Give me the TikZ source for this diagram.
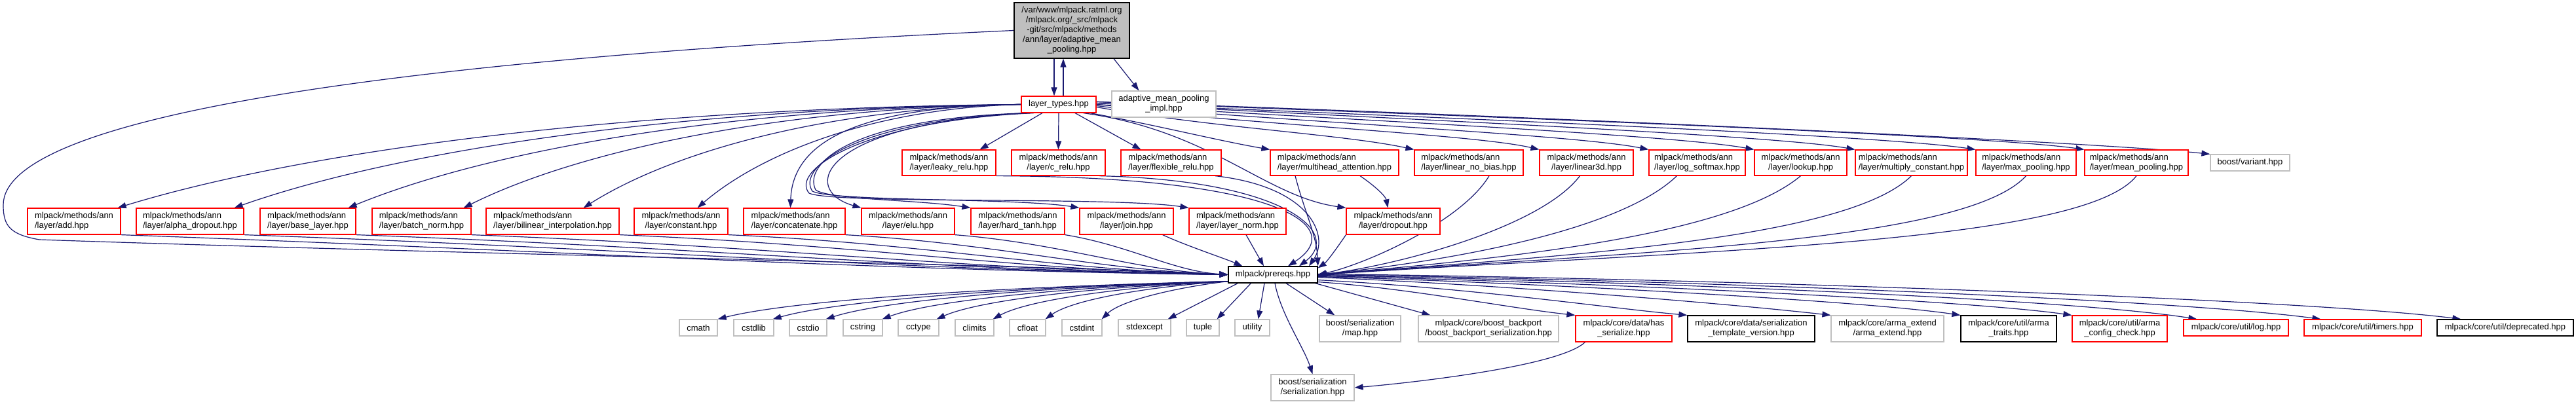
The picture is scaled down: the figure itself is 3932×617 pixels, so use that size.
\documentclass[tikz,border=0pt]{standalone}
\usepackage{fontspec}
\usetikzlibrary{arrows.meta}
\newfontfamily\dgfam{Liberation Sans}
\newcommand\dgf{\dgfam\fontsize{13}{15}\selectfont}
\definecolor{edgec}{HTML}{191970}
\definecolor{greyb}{HTML}{BFBFBF}
\definecolor{redb}{HTML}{FF0000}
\pgfdeclarelayer{bg}
\pgfsetlayers{bg,main}
\newcommand\dnode[7]{\node[#6,minimum width={(#3)-(#2)},minimum height={(#5)-(#4)}] (#1) at ({((#2)+(#3))/2},{((#4)+(#5))/2}) {#7};}
\begin{document}
\begin{tikzpicture}[x=1pt,y=-1pt,
  nb/.style={draw,rectangle,inner sep=0pt,font=\dgf,line width=1.2pt,align=center,fill=white},
  rn/.style={nb,draw=redb},
  gn/.style={nb,draw=greyb},
  kn/.style={nb,draw=black},
  mn/.style={nb,draw=black,fill=greyb},
  lft/.style={align=left},
  edge/.style={draw=edgec,line width=1.2pt,-{Triangle[length=13pt,width=9pt]}}]
\useasboundingbox (0,0) rectangle (3932,617);
% top
\dnode{m}{1548}{1724}{4}{89}{mn}{/var/www/mlpack.ratml.org\\/mlpack.org/\_src/mlpack\\-git/src/mlpack/methods\\/ann/layer/adaptive\_mean\\\_pooling.hpp}
\dnode{ami}{1697}{1856}{139}{179}{gn}{adaptive\_mean\_pooling\\\_impl.hpp}
\dnode{lt}{1559}{1673}{147}{172}{rn}{layer\_types.hpp}
% row 2
\dnode{leaky}{1377}{1520}{229}{268}{rn,lft}{mlpack/methods/ann\\/layer/leaky\_relu.hpp}
\dnode{crelu}{1544}{1687}{229}{268}{rn}{mlpack/methods/ann\\/layer/c\_relu.hpp}
\dnode{flex}{1711}{1864}{229}{268}{rn,lft}{mlpack/methods/ann\\/layer/flexible\_relu.hpp}
\dnode{mh}{1939}{2135}{229}{268}{rn,lft}{mlpack/methods/ann\\/layer/multihead\_attention.hpp}
\dnode{lnb}{2159}{2325}{229}{268}{rn,lft}{mlpack/methods/ann\\/layer/linear\_no\_bias.hpp}
\dnode{l3d}{2350}{2493}{229}{268}{rn}{mlpack/methods/ann\\/layer/linear3d.hpp}
\dnode{lsm}{2517}{2664}{229}{268}{rn,lft}{mlpack/methods/ann\\/layer/log\_softmax.hpp}
\dnode{lookup}{2678}{2819}{229}{268}{rn}{mlpack/methods/ann\\/layer/lookup.hpp}
\dnode{mc}{2832}{3003}{229}{268}{rn,lft}{mlpack/methods/ann\\/layer/multiply\_constant.hpp}
\dnode{maxp}{3016}{3169}{229}{268}{rn,lft}{mlpack/methods/ann\\/layer/max\_pooling.hpp}
\dnode{meanp}{3182}{3340}{229}{268}{rn,lft}{mlpack/methods/ann\\/layer/mean\_pooling.hpp}
\dnode{bv}{3374}{3495}{236}{261}{gn}{boost/variant.hpp}
% row 3
\dnode{add}{42}{184}{318}{358}{rn,lft}{mlpack/methods/ann\\/layer/add.hpp}
\dnode{alpha}{208}{372}{318}{358}{rn,lft}{mlpack/methods/ann\\/layer/alpha\_dropout.hpp}
\dnode{base}{397}{543}{318}{358}{rn,lft}{mlpack/methods/ann\\/layer/base\_layer.hpp}
\dnode{batch}{568}{719}{318}{358}{rn,lft}{mlpack/methods/ann\\/layer/batch\_norm.hpp}
\dnode{bil}{742}{945}{318}{358}{rn,lft}{mlpack/methods/ann\\/layer/bilinear\_interpolation.hpp}
\dnode{cnst}{968}{1111}{318}{358}{rn}{mlpack/methods/ann\\/layer/constant.hpp}
\dnode{concat}{1135}{1290}{318}{358}{rn,lft}{mlpack/methods/ann\\/layer/concatenate.hpp}
\dnode{elu}{1315}{1457}{318}{358}{rn}{mlpack/methods/ann\\/layer/elu.hpp}
\dnode{htanh}{1482}{1625}{318}{358}{rn,lft}{mlpack/methods/ann\\/layer/hard\_tanh.hpp}
\dnode{join}{1648}{1791}{318}{358}{rn}{mlpack/methods/ann\\/layer/join.hpp}
\dnode{lnorm}{1815}{1963}{318}{358}{rn,lft}{mlpack/methods/ann\\/layer/layer\_norm.hpp}
\dnode{drop}{2055}{2198}{318}{358}{rn}{mlpack/methods/ann\\/layer/dropout.hpp}
% prereqs
\dnode{pr}{1875}{2011}{407}{432}{kn}{mlpack/prereqs.hpp}
% bottom row
\dnode{cmath}{1037}{1095}{488}{513}{gn}{cmath}
\dnode{cstdlib}{1120}{1181}{488}{513}{gn}{cstdlib}
\dnode{cstdio}{1205}{1262}{488}{513}{gn}{cstdio}
\dnode{cstring}{1287}{1347}{488}{513}{gn}{cstring}
\dnode{cctype}{1371}{1433}{488}{513}{gn}{cctype}
\dnode{climits}{1458}{1517}{488}{513}{gn}{climits}
\dnode{cfloat}{1541}{1596}{488}{513}{gn}{cfloat}
\dnode{cstdint}{1621}{1682}{488}{513}{gn}{cstdint}
\dnode{stdexcept}{1707}{1787}{488}{513}{gn}{stdexcept}
\dnode{tuple}{1811}{1861}{488}{513}{gn}{tuple}
\dnode{utility}{1885}{1938}{488}{513}{gn}{utility}
\dnode{bsmap}{2014}{2138}{482}{522}{gn}{boost/serialization\\/map.hpp}
\dnode{bbp}{2165}{2379}{482}{522}{gn}{mlpack/core/boost\_backport\\/boost\_backport\_serialization.hpp}
\dnode{hs}{2405}{2552}{482}{522}{rn}{mlpack/core/data/has\\\_serialize.hpp}
\dnode{stv}{2576}{2770}{482}{522}{kn}{mlpack/core/data/serialization\\\_template\_version.hpp}
\dnode{ae}{2795}{2967}{482}{522}{gn}{mlpack/core/arma\_extend\\/arma\_extend.hpp}
\dnode{atr}{2993}{3139}{482}{522}{kn}{mlpack/core/util/arma\\\_traits.hpp}
\dnode{acc}{3163}{3308}{482}{522}{rn}{mlpack/core/util/arma\\\_config\_check.hpp}
\dnode{logn}{3333}{3493}{488}{513}{rn}{mlpack/core/util/log.hpp}
\dnode{timers}{3517}{3696}{488}{513}{rn}{mlpack/core/util/timers.hpp}
\dnode{depr}{3720}{3928}{488}{513}{kn}{mlpack/core/util/deprecated.hpp}
\dnode{bss}{1940}{2067}{572}{612}{gn}{boost/serialization\\/serialization.hpp}
\begin{pgfonlayer}{bg}
\fill[white] (0,0) rectangle (3932,617);
% main node
\draw[edge] ([xshift=-27pt]m.south) -- ([xshift=-7pt]lt.north);
\draw[edge] ([xshift=7pt]lt.north) -- ([xshift=-13pt]m.south);
\draw[edge] ([xshift=64pt]m.south) -- ([xshift=-38pt]ami.north);
\draw[edge] (m.west) .. controls (500,95) and (5,190) .. (5,313) .. controls (5,345) and (15,358) .. (60,366) .. controls (700,388) and (1600,405) .. (pr.west);
% layer_types -> row 3
\draw[edge] (lt.west) .. controls (938,165) and (455,233) .. ([xshift=-5pt]add.north east);
\draw[edge] (lt.west) .. controls (1018,165) and (597,233) .. ([xshift=-15pt]alpha.north east);
\draw[edge] (lt.west) .. controls (1096,165) and (737,233) .. ([xshift=-12pt]base.north east);
\draw[edge] (lt.west) .. controls (1176,165) and (877,233) .. ([xshift=-12pt]batch.north east);
\draw[edge] (lt.west) .. controls (1258,165) and (1024,233) .. ([xshift=-55pt]bil.north east);
\draw[edge] (lt.west) .. controls (1336,165) and (1163,233) .. ([xshift=-47pt]cnst.north east);
\draw[edge] (lt.west) .. controls (1350,162) and (1210,200) .. ([xshift=-6pt]concat.north);
\draw[edge] ([xshift=8pt]lt.south west) .. controls (1250,190) and (1220,290) .. (elu.north west);
\draw[edge] ([xshift=12pt]lt.south west) .. controls (1300,180) and (1225,250) .. (1245,290) .. controls (1265,305) and (1400,305) .. (htanh.north west);
\draw[edge] ([xshift=16pt]lt.south west) .. controls (1310,182) and (1215,255) .. (1240,292) .. controls (1270,308) and (1550,302) .. (join.north west);
\draw[edge] ([xshift=20pt]lt.south west) .. controls (1320,184) and (1205,260) .. (1235,295) .. controls (1270,312) and (1700,300) .. (lnorm.north west);
% layer_types -> row 2
\draw[edge] ([xshift=-25pt]lt.south) -- ([xshift=47pt]leaky.north);
\draw[edge] (lt.south) -- (crelu.north);
\draw[edge] ([xshift=25pt]lt.south) -- ([xshift=-46pt]flex.north);
\draw[edge] ([xshift=-10pt]lt.south east) .. controls (1760,190) and (1860,215) .. (mh.north west);
\draw[edge] ([yshift=-4pt]lt.east) .. controls (1850,195) and (2050,205) .. (lnb.north west);
\draw[edge] ([yshift=-2pt]lt.east) .. controls (1900,190) and (2250,205) .. (l3d.north west);
\draw[edge] (lt.east) .. controls (1950,185) and (2400,205) .. (lsm.north west);
\draw[edge] (lt.east) .. controls (2000,180) and (2550,205) .. (lookup.north west);
\draw[edge] ([yshift=2pt]lt.east) .. controls (2050,178) and (2700,205) .. (mc.north west);
\draw[edge] ([yshift=2pt]lt.east) .. controls (2100,176) and (2860,205) .. (maxp.north west);
\draw[edge] ([yshift=4pt]lt.east) .. controls (2150,174) and (3020,205) .. (meanp.north west);
\draw[edge] ([yshift=4pt]lt.east) .. controls (2200,172) and (3180,215) .. (bv.north west);
\draw[edge] ([xshift=-20pt]lt.south east) .. controls (1850,200) and (1930,300) .. (drop.north west);
% row 2 -> prereqs
\draw[edge] (leaky.south east) .. controls (1950,270) and (2060,345) .. ([xshift=23pt]pr.north);
\draw[edge] ([xshift=-10pt]crelu.south east) .. controls (1960,275) and (2050,355) .. ([xshift=40pt]pr.north);
\draw[edge] ([xshift=-10pt]flex.south east) .. controls (2000,285) and (2030,360) .. ([xshift=55pt]pr.north);
\draw[edge] ([xshift=-60pt]mh.south) .. controls (1990,320) and (2010,360) .. (pr.north east);
\draw[edge] ([xshift=39pt]mh.south) .. controls (2100,285) and (2115,300) .. ([xshift=-8pt]drop.north);
\draw[edge] (drop.south west) .. controls (2040,380) and (2025,400) .. ([yshift=-3pt]pr.north east);
\draw[edge] ([xshift=31pt]lnb.south) .. controls (2230,340) and (2080,405) .. (pr.east);
\draw[edge] ([xshift=-10pt]l3d.south) .. controls (2350,350) and (2120,408) .. (pr.east);
\draw[edge] ([xshift=-31pt]lsm.south) .. controls (2470,355) and (2200,400) .. (pr.east);
\draw[edge] (lookup.south) .. controls (2640,360) and (2300,395) .. (pr.east);
\draw[edge] (mc.south) .. controls (2820,365) and (2400,390) .. (pr.east);
\draw[edge] (maxp.south) .. controls (3000,370) and (2500,385) .. (pr.east);
\draw[edge] (meanp.south) .. controls (3180,372) and (2600,382) .. (pr.east);
% row 3 -> prereqs
\draw[edge] (add.south east) .. controls (860,383) and (1290,412) .. (pr.west);
\draw[edge] (alpha.south east) .. controls (973,380) and (1350,412) .. (pr.west);
\draw[edge] (base.south east) .. controls (1076,378) and (1409,412) .. (pr.west);
\draw[edge] (batch.south east) .. controls (1181,376) and (1470,412) .. (pr.west);
\draw[edge] (bil.south east) .. controls (1317,374) and (1550,412) .. (pr.west);
\draw[edge] (cnst.south east) .. controls (1417,372) and (1608,412) .. (pr.west);
\draw[edge] (concat.south east) .. controls (1524,372) and (1670,412) .. (pr.west);
\draw[edge] (elu.south east) .. controls (1624,372) and (1729,413) .. (pr.west);
\draw[edge] (htanh.south east) .. controls (1725,375) and (1790,414) .. (pr.west);
\draw[edge] ([xshift=55pt]join.south) .. controls (1810,375) and (1870,395) .. ([xshift=22pt]pr.north west);
\draw[edge] ([xshift=13pt]lnorm.south) -- ([xshift=-14pt]pr.north);
% prereqs -> bottom row (left)
\draw[edge] ([yshift=3pt]pr.south west) .. controls (1524,438) and (1212,458) .. (cmath.north east);
\draw[edge] ([yshift=3pt]pr.south west) .. controls (1562,438) and (1283,458) .. ([xshift=-2pt]cstdlib.north east);
\draw[edge] ([yshift=3pt]pr.south west) .. controls (1598,438) and (1352,458) .. ([xshift=-2pt]cstdio.north east);
\draw[edge] ([yshift=3pt]pr.south west) .. controls (1637,438) and (1425,458) .. ([xshift=-1pt]cstring.north east);
\draw[edge] ([yshift=3pt]pr.south west) .. controls (1674,438) and (1496,458) .. ([xshift=-4pt]cctype.north east);
\draw[edge] ([yshift=3pt]pr.south west) .. controls (1713,438) and (1569,458) .. ([xshift=-2pt]climits.north east);
\draw[edge] ([yshift=3pt]pr.south west) .. controls (1749,438) and (1637,458) .. ([xshift=-1pt]cfloat.north east);
\draw[edge] ([yshift=3pt]pr.south west) .. controls (1788,440) and (1710,460) .. ([xshift=-1pt]cstdint.north east);
\draw[edge] ([xshift=15pt]pr.south west) -- ([xshift=-5pt]stdexcept.north east);
\draw[edge] ([xshift=35pt]pr.south west) -- ([xshift=-4pt]tuple.north east);
\draw[edge] ([xshift=-13pt]pr.south) -- ([xshift=-18pt]utility.north east);
% prereqs -> bottom row (right)
\draw[edge] ([xshift=20pt]pr.south) -- ([xshift=24pt]bsmap.north west);
\draw[edge] ([xshift=-4pt]pr.south east) -- ([xshift=19pt]bbp.north west);
\draw[edge] ([yshift=2pt]pr.south east) .. controls (2150,440) and (2300,470) .. (hs.north west);
\draw[edge] ([yshift=5pt]pr.south east) .. controls (2250,440) and (2450,470) .. (stv.north west);
\draw[edge] ([yshift=-4pt]pr.east) .. controls (2300,435) and (2650,465) .. (ae.north west);
\draw[edge] ([yshift=-3pt]pr.east) .. controls (2350,432) and (2850,460) .. (atr.north west);
\draw[edge] ([yshift=-2pt]pr.east) .. controls (2400,430) and (3000,458) .. (acc.north west);
\draw[edge] ([yshift=-1pt]pr.east) .. controls (2450,428) and (3150,455) .. ([xshift=21pt]logn.north west);
\draw[edge] (pr.east) .. controls (2500,426) and (3300,455) .. ([xshift=26pt]timers.north west);
\draw[edge] ([yshift=1pt]pr.east) .. controls (2550,424) and (3500,455) .. ([xshift=37pt]depr.north west);
\draw[edge] ([xshift=3pt]pr.south) .. controls (1955,480) and (1990,530) .. (bss.north);
\draw[edge] ([xshift=15pt]hs.south west) .. controls (2380,560) and (2150,585) .. (bss.east);
\end{pgfonlayer}
\end{tikzpicture}
\end{document}
